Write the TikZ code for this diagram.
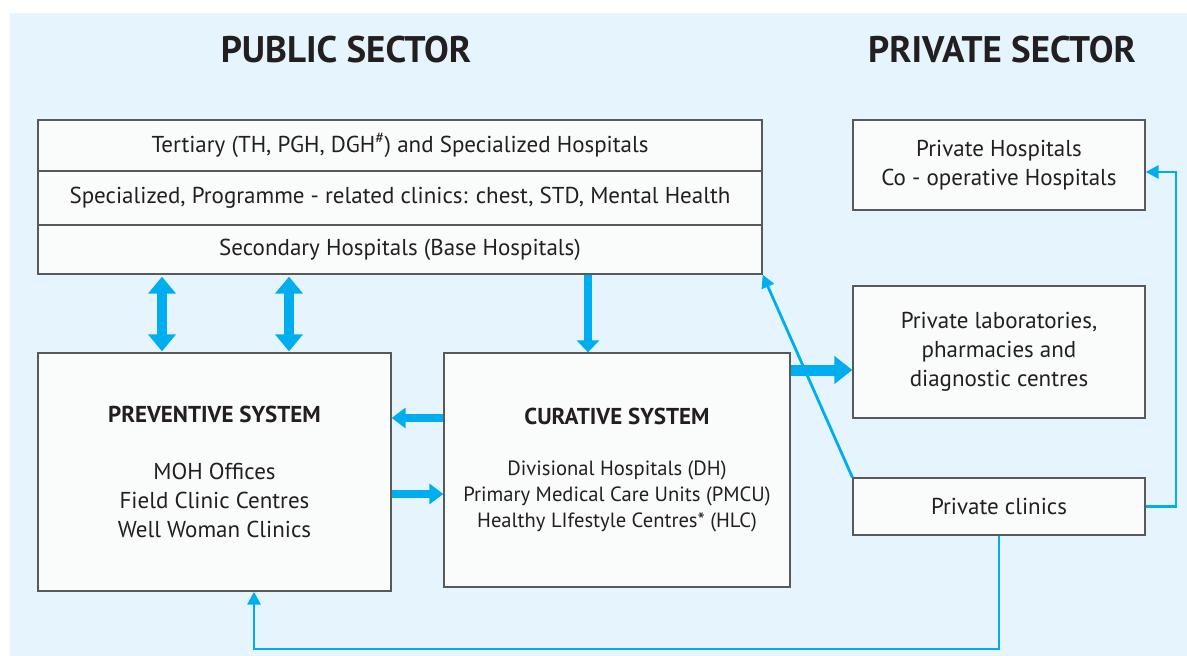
\documentclass[tikz,border=0pt]{standalone}
\usepackage{fontspec}
\setmainfont{PT Sans}
\usetikzlibrary{arrows.meta}
\definecolor{bgblue}{HTML}{E6F5FD}
\definecolor{cyanar}{HTML}{00AEEF}
\definecolor{boxfill}{HTML}{FAFBFB}
\definecolor{boxline}{HTML}{58595B}
\definecolor{txt}{HTML}{231F20}
\newcommand{\curfont}{\fontsize{20.6}{26}\selectfont}
\tikzset{
  box/.style={draw=boxline, line width=1.3pt, fill=boxfill, inner sep=0pt, align=center, text=txt, font=\fontsize{23}{29}\selectfont},
  ttl/.style={text=txt, font=\fontsize{37}{40}\selectfont\bfseries, inner sep=0pt},
  dblarrow/.style={draw=cyanar, line width=10pt, {Triangle[width=27pt,length=17pt]}-{Triangle[width=27pt,length=17pt]}, shorten <=2pt, shorten >=1pt},
  downarrow/.style={draw=cyanar, line width=8pt, -{Triangle[width=22pt,length=12pt]}},
  sidearrow/.style={draw=cyanar, line width=8pt, -{Triangle[width=20pt,length=14pt]}},
  bigarrow/.style={draw=cyanar, line width=11pt, -{Triangle[width=27pt,length=18pt]}},
  thinarrow/.style={draw=cyanar, line width=2.8pt, -{Triangle[width=13pt,length=13pt]}}
}
\begin{document}
\begin{tikzpicture}[x=1pt,y=-1pt]
\useasboundingbox (0,0) rectangle (1187,656);
\fill[bgblue] (10,13) rectangle (1187,656);

% titles
\node[ttl] (pub) at (346,50) {PUBLIC SECTOR};
\node[ttl] (priv) at (1002,50) {PRIVATE SECTOR};

% top stacked box
\node[box, minimum width=724pt, minimum height=51pt] (t1) at (400,145.5) {Tertiary (TH, PGH, DGH\textsuperscript{\#}) and Specialized Hospitals};
\node[box, minimum width=724pt, minimum height=54pt] (t2) at (400,198) {Specialized, Programme - related clinics: chest, STD, Mental Health};
\node[box, minimum width=724pt, minimum height=49pt] (t3) at (400,249.5) {Secondary Hospitals (Base Hospitals)};

% systems
\node[box, minimum width=353pt, minimum height=238pt] (prev) at (214.5,472) {\textbf{PREVENTIVE SYSTEM}\\[28pt]MOH Offices\\Field Clinic Centres\\Well Woman Clinics};
\node[box, font=\curfont, minimum width=346pt, minimum height=234pt] (cur) at (617,470) {{\fontsize{23}{26}\selectfont\bfseries CURATIVE SYSTEM}\\[25pt]Divisional Hospitals (DH)\\Primary Medical Care Units (PMCU)\\Healthy LIfestyle Centres* (HLC)};

% private sector
\node[box, minimum width=292pt, minimum height=90pt] (ph) at (999,165) {Private Hospitals\\Co - operative Hospitals};
\node[box, minimum width=292pt, minimum height=132pt] (labs) at (999,352) {Private laboratories,\\pharmacies and\\diagnostic centres};
\node[box, minimum width=292pt, minimum height=57pt] (clin) at (999,506.5) {Private clinics};

% helper coordinates
\coordinate (xa) at (162,0);
\coordinate (xb) at (289,0);
\coordinate (xc) at (588,0);
\coordinate (yl) at (0,418);
\coordinate (yr) at (0,494);
\coordinate (yq) at (0,370);
\coordinate (yh) at (0,172);
\coordinate (rx) at (1176,0);
\coordinate (by) at (0,649);
\coordinate (bx) at (254,0);

% arrows
\draw[dblarrow] (t3.south -| xa) -- (prev.north -| xa);
\draw[dblarrow] (t3.south -| xb) -- (prev.north -| xb);
\draw[downarrow] (t3.south -| xc) -- (cur.north -| xc);
\draw[sidearrow] (cur.west |- yl) -- (prev.east |- yl);
\draw[sidearrow] (prev.east |- yr) -- (cur.west |- yr);
\draw[bigarrow] (cur.east |- yq) -- (labs.west |- yq);

\draw[thinarrow] (clin.north west) -- (t3.south east);
\draw[thinarrow] (clin.east) -- (clin.east -| rx) -- (rx |- yh) -- (ph.east |- yh);
\draw[thinarrow] (clin.south) -- (clin.south |- by) -- (bx |- by) -- (prev.south -| bx);
\end{tikzpicture}
\end{document}
